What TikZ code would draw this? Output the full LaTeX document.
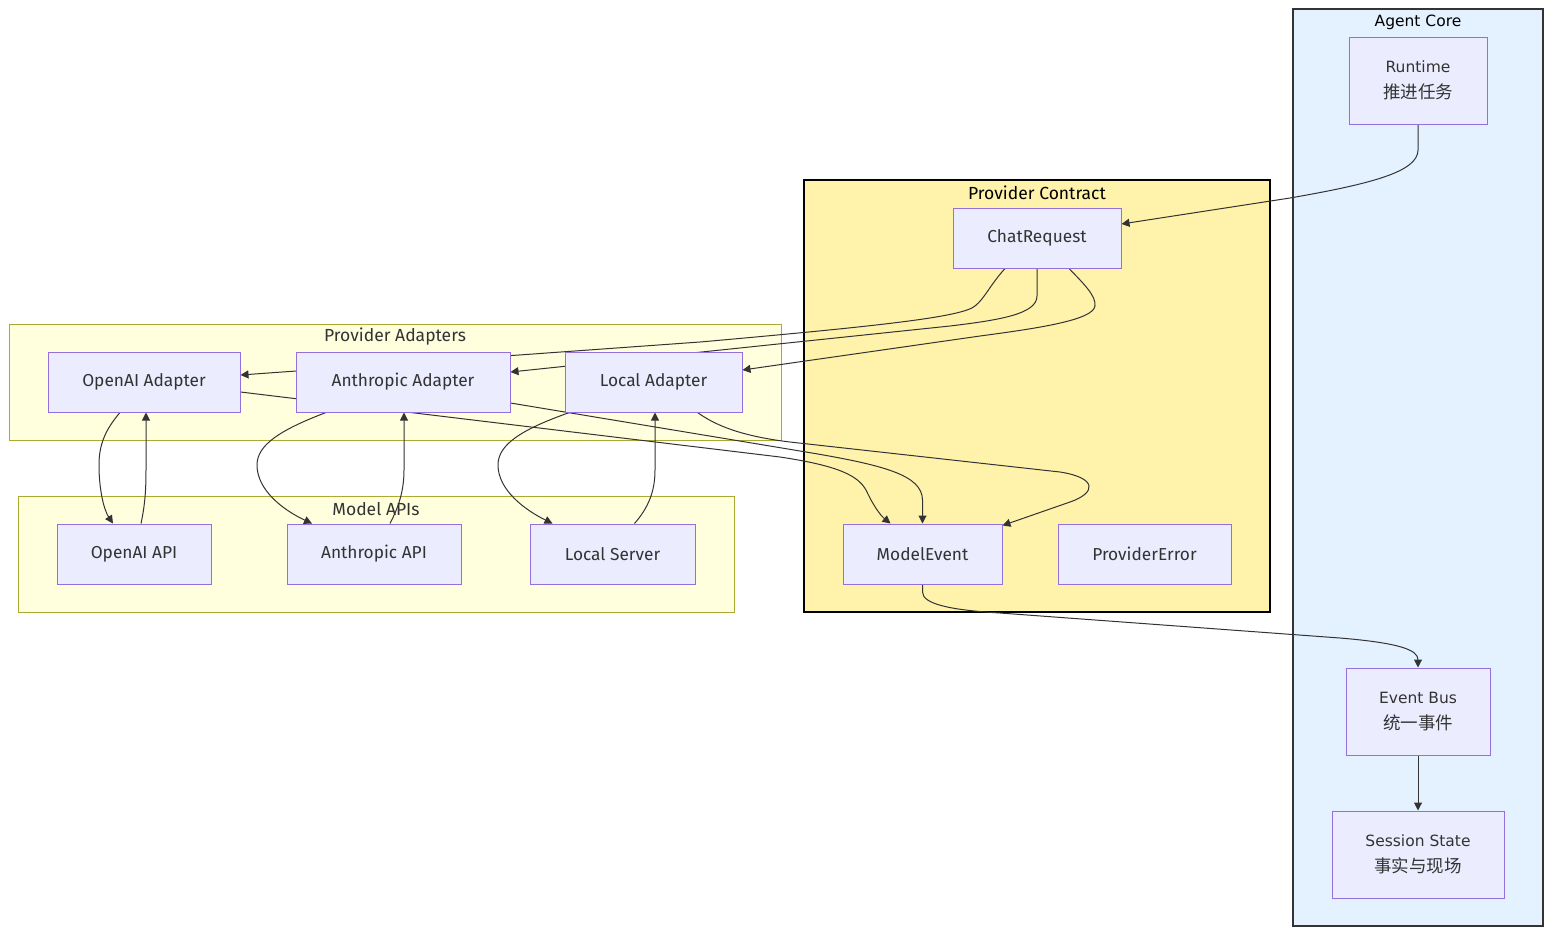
\documentclass[tikz,border=0pt]{standalone}
\usepackage{fontspec}
\setmainfont{Fira Sans}
\newfontfamily\corefont{DejaVu Sans}
\newfontfamily\cjk{Noto Sans CJK SC}
\usetikzlibrary{arrows.meta}
\definecolor{nodefill}{HTML}{ECECFF}
\definecolor{nodeline}{HTML}{9370DB}
\definecolor{clfill}{HTML}{FFFFDE}
\definecolor{clline}{HTML}{AAAA33}
\definecolor{pcfill}{HTML}{FFF2AB}
\definecolor{acfill}{HTML}{E4F1FF}
\definecolor{edgecol}{HTML}{333333}
\pgfdeclarelayer{bg}
\pgfdeclarelayer{edges}
\pgfsetlayers{bg,edges,main}
\begin{document}
\begin{tikzpicture}[x=1pt,y=-1pt,
  box/.style={draw=nodeline, fill=nodefill, line width=1pt, text=edgecol,
    font=\fontsize{17.3}{20}\selectfont, inner sep=0pt, align=center,
    minimum height=60pt},
  corebox/.style={box, font=\corefont\fontsize{15.5}{26}\selectfont, minimum height=87pt},
  cjkline/.style={},
  cluster/.style={draw=clline, fill=clfill, line width=1pt, inner sep=0pt},
  cltitle/.style={text=edgecol, font=\fontsize{17.5}{20}\selectfont, inner sep=0pt},
  conn/.style={draw=edgecol, line width=1pt, -{Triangle[length=8pt,width=8pt]}}
]
\useasboundingbox (0,0) rectangle (1568,946);

% clusters
\begin{pgfonlayer}{bg}
\node[cluster, minimum width=772pt, minimum height=116pt] (cpa) at (395,382) {};
\node[cluster, minimum width=716pt, minimum height=116pt] (cma) at (376,554) {};
\node[draw=black, fill=pcfill, line width=2pt, inner sep=0pt,
      minimum width=466pt, minimum height=432pt] (cpc) at (1037,396) {};
\node[draw=edgecol, fill=acfill, line width=1.5pt, inner sep=0pt,
      minimum width=250pt, minimum height=917pt] (cac) at (1418,467.5) {};
\node[cltitle] (tpa) at (395,337) {Provider Adapters};
\node[cltitle] (tma) at (376,509) {Model APIs};
\node[cltitle, text=black] (tpc) at (1037,193) {Provider Contract};
\node[cltitle, text=black, font=\corefont\fontsize{15.5}{20}\selectfont] (tac) at (1418,22) {Agent Core};
\end{pgfonlayer}

% nodes
\node[box, minimum width=192pt] (oad) at (144,382) {OpenAI Adapter};
\node[box, minimum width=214pt] (aad) at (403,382) {Anthropic Adapter};
\node[box, minimum width=177pt] (lad) at (653.5,382) {Local Adapter};
\node[box, minimum width=154pt] (oapi) at (134,554) {OpenAI API};
\node[box, minimum width=174pt] (aapi) at (374,554) {Anthropic API};
\node[box, minimum width=165pt] (ls) at (612.5,554) {Local Server};
\node[box, minimum width=168pt] (chat) at (1037,238) {ChatRequest};
\node[box, minimum width=159pt] (me) at (922.5,554) {ModelEvent};
\node[box, minimum width=173pt] (pe) at (1144.5,554) {ProviderError};
\node[corebox, minimum width=138pt] (run) at (1418,80.5) {Runtime\\{\cjk\fontsize{17.5}{26}\selectfont 推进任务}};
\node[corebox, minimum width=144pt] (eb) at (1418,711.5) {Event Bus\\{\cjk\fontsize{17.5}{26}\selectfont 统一事件}};
\node[corebox, minimum width=172pt] (ss) at (1418,854.5) {Session State\\{\cjk\fontsize{17.5}{26}\selectfont 事实与现场}};

% connectors
\begin{pgfonlayer}{edges}
\draw[conn] (run.south) -- (1418,150) .. controls (1418,172) and (1370,184) .. (1290,198) -- ([yshift=14pt]chat.east);
\draw[conn] ([xshift=-32pt]chat.south) .. controls (990,285) and (985,298) .. (975,306) .. controls (962,317) and (880,326) .. (700,342) -- ([yshift=7pt]oad.east);
\draw[conn] (chat.south) -- (1037,296) .. controls (1037,314) and (1000,320) .. (950,326) -- ([yshift=10pt]aad.east);
\draw[conn] ([xshift=32pt]chat.south) .. controls (1085,285) and (1096,296) .. (1095,306) .. controls (1093,320) and (1040,328) .. (980,336) -- ([yshift=12pt]lad.east);
\draw[conn] ([yshift=-10pt]oad.east) -- (780,457) .. controls (840,466) and (858,476) .. (866,490) .. controls (873,505) and (880,515) .. ([xshift=-32pt]me.north);
\draw[conn] ([yshift=-21pt]aad.east) -- (800,451) .. controls (885,465) and (922,475) .. (922.5,500) -- (me.north);
\draw[conn] ([xshift=44pt]lad.south) .. controls (715,425) and (740,436) .. (790,442) -- (1060,472) .. controls (1098,478) and (1096,493) .. (1070,502) -- ([yshift=-2pt]me.north east);
\draw[conn] ([xshift=-24pt]oad.south) .. controls (105,430) and (99,445) .. (99,465) .. controls (99,490) and (104,510) .. ([xshift=-21pt]oapi.north);
\draw[conn] ([xshift=7pt]oapi.north) .. controls (145,505) and (146,490) .. (146,470) -- ([xshift=2pt]oad.south);
\draw[conn] ([xshift=-77pt]aad.south) .. controls (280,430) and (257,445) .. (257,465) .. controls (257,490) and (283,510) .. ([xshift=-62pt]aapi.north);
\draw[conn] ([xshift=16pt]aapi.north) .. controls (398,508) and (404,492) .. (404,470) -- ([xshift=1pt]aad.south);
\draw[conn] ([xshift=-84pt]lad.south) .. controls (520,430) and (498,445) .. (498,465) .. controls (498,490) and (525,510) .. ([xshift=-60pt]ls.north);
\draw[conn] ([xshift=22pt]ls.north) .. controls (648,508) and (655,492) .. (655,470) -- ([xshift=1.5pt]lad.south);
\draw[conn] (me.south) -- (922.5,592) .. controls (922.5,604) and (950,610) .. (1000,613) -- (1340,638) .. controls (1400,643) and (1418,650) .. (eb.north);
\draw[conn] (eb.south) -- (ss.north);
\end{pgfonlayer}
\end{tikzpicture}
\end{document}
